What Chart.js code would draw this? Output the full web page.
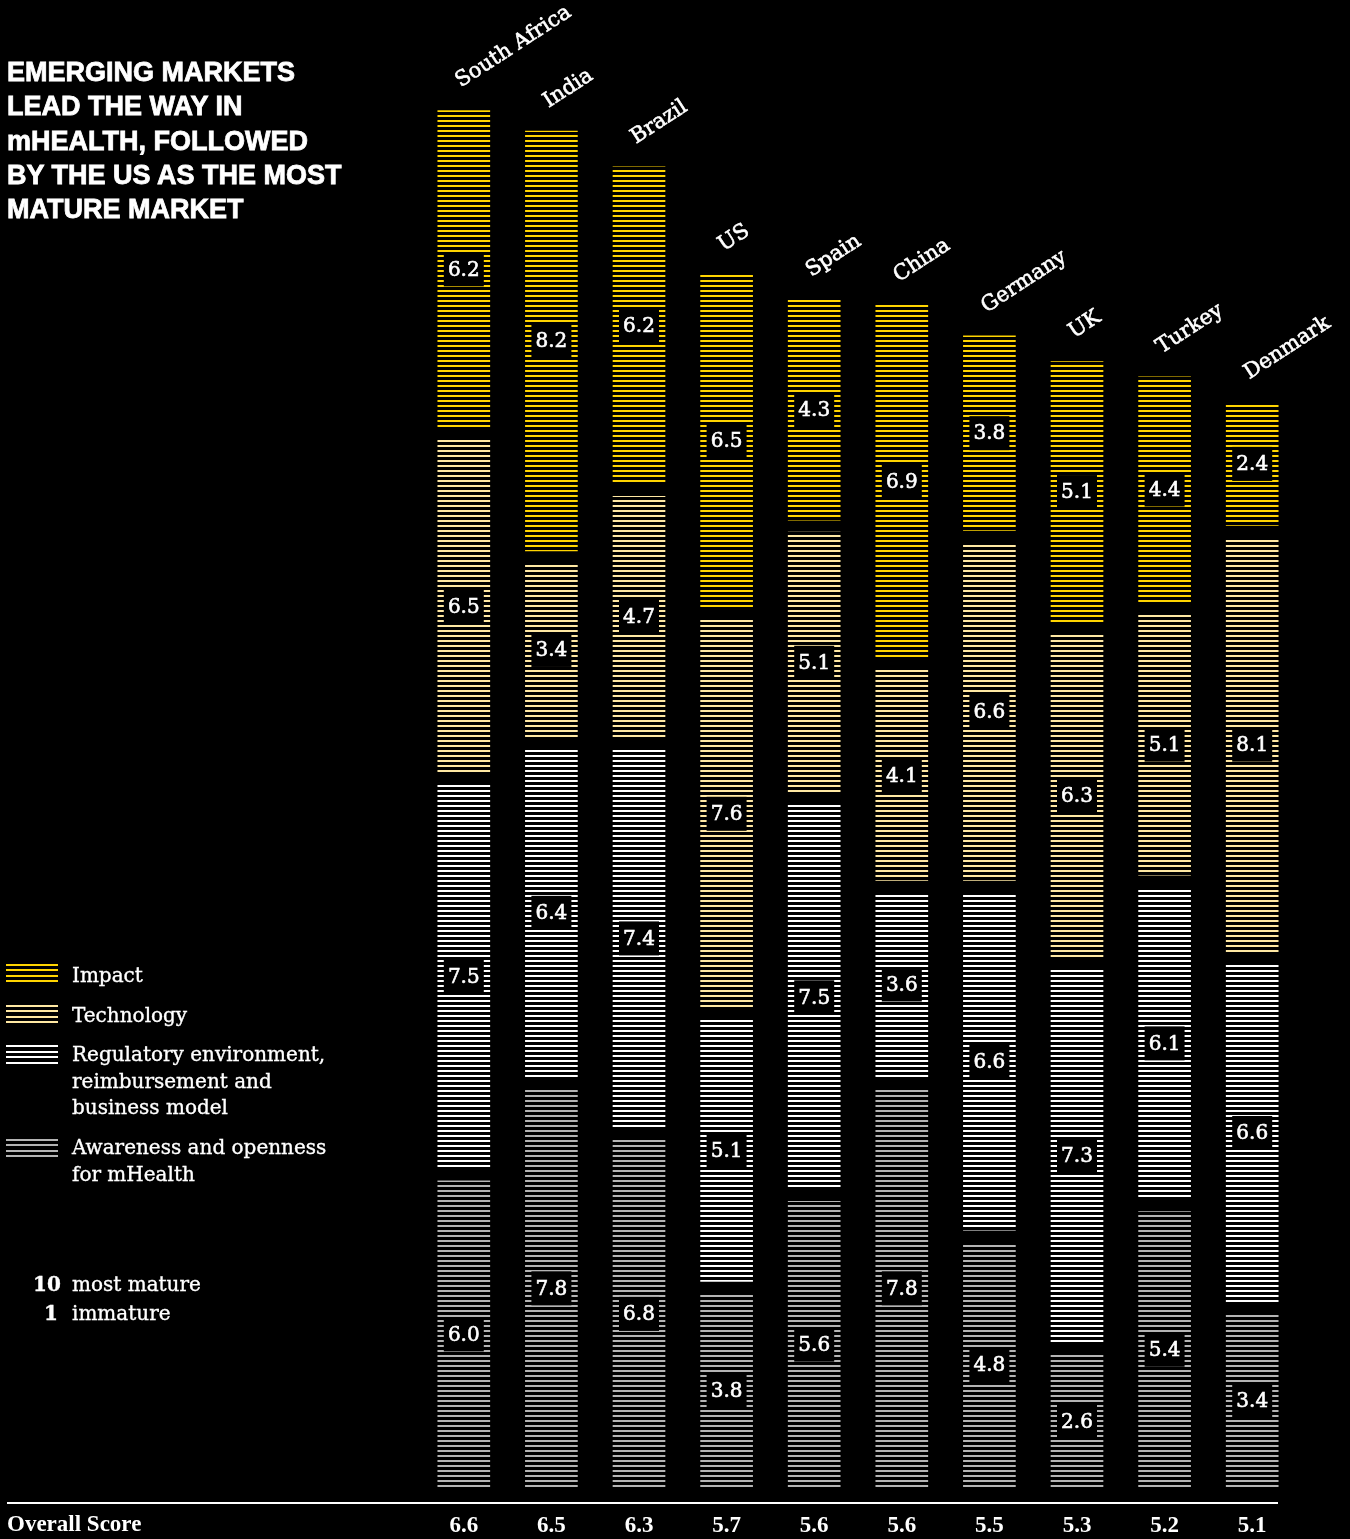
<!DOCTYPE html>
<html>
<head>
<meta charset="utf-8">
<script src="https://cdn.jsdelivr.net/npm/chart.js@4.4.1/dist/chart.umd.min.js"></script>
<style>
  html, body { margin: 0; padding: 0; background: #000; }
  body { width: 1350px; height: 1539px; position: relative; overflow: hidden; color: #fff; }
  #chart { position: absolute; left: 0; top: 0; }
  .title {
    position: absolute; left: 7px; top: 55px;
    font: bold 27px/34.3px "Liberation Sans", Arial, sans-serif;
    -webkit-text-stroke: 0.8px #fff;
  }
  .serif {
    font-family: "DejaVu Serif", serif; font-size: 20px; line-height: 26.5px;
    -webkit-text-stroke: 0.35px #fff;
  }
  .txt { position: absolute; white-space: nowrap; }
  .swatch { position: absolute; left: 6px; width: 52px; height: 19px; }
  .rule { position: absolute; left: 7px; top: 1502px; width: 1271px; height: 2px; background: #fff; }
  .overall { position: absolute; left: 7px; top: 1511px; font: bold 23px/26px "Liberation Serif", serif; }
</style>
</head>
<body>
<canvas id="chart" width="1350" height="1539"></canvas>

<div class="title">EMERGING MARKETS<br>LEAD THE WAY IN<br>mHEALTH, FOLLOWED<br>BY THE US AS THE MOST<br>MATURE MARKET</div>

<div class="swatch" id="sw-impact" style="top:964px"></div>
<div class="txt serif" style="left:72px; top:962px">Impact</div>
<div class="swatch" id="sw-tech" style="top:1005px"></div>
<div class="txt serif" style="left:72px; top:1002px">Technology</div>
<div class="swatch" id="sw-reg" style="top:1045px"></div>
<div class="txt serif" style="left:72px; top:1041px">Regulatory environment,<br>reimbursement and<br>business model</div>
<div class="swatch" id="sw-aware" style="top:1139px"></div>
<div class="txt serif" style="left:72px; top:1134px">Awareness and openness<br>for mHealth</div>

<div class="txt serif" style="left:33px; top:1271px; font-weight:bold">10</div>
<div class="txt serif" style="left:72px; top:1271px">most mature</div>
<div class="txt serif" style="left:44px; top:1300px; font-weight:bold">1</div>
<div class="txt serif" style="left:72px; top:1300px">immature</div>

<div class="rule"></div>
<div class="overall">Overall Score</div>

<script>
// scores per country, 1 = immature, 10 = most mature
const countries = ['South Africa', 'India', 'Brazil', 'US', 'Spain', 'China', 'Germany', 'UK', 'Turkey', 'Denmark'];
const impact = [6.2, 8.2, 6.2, 6.5, 4.3, 6.9, 3.8, 5.1, 4.4, 2.4];
const technology = [6.5, 3.4, 4.7, 7.6, 5.1, 4.1, 6.6, 6.3, 5.1, 8.1];
const regulatory = [7.5, 6.4, 7.4, 5.1, 7.5, 3.6, 6.6, 7.3, 6.1, 6.6];
const awareness = [6.0, 7.8, 6.8, 3.8, 5.6, 7.8, 4.8, 2.6, 5.4, 3.4];
const overall = [6.6, 6.5, 6.3, 5.7, 5.6, 5.6, 5.5, 5.3, 5.2, 5.1];

const COLORS = {
  impact: '#ffd400',
  technology: '#ffe8a3',
  regulatory: '#ffffff',
  awareness: '#b4b4b4'
};
const GAP = 0.234; // black space between stacked segments, in score units

function stripes(color) {
  const c = document.createElement('canvas');
  c.width = 8;
  c.height = 5;
  const g = c.getContext('2d');
  g.fillStyle = color;
  g.fillRect(0, 0, 8, 2);
  return g.createPattern(c, 'repeat');
}

function swatch(id, color) {
  document.getElementById(id).style.background =
    'repeating-linear-gradient(to bottom, ' + color + ' 0px, ' + color + ' 2px, transparent 2px, transparent 5.5px)';
}
swatch('sw-impact', COLORS.impact);
swatch('sw-tech', COLORS.technology);
swatch('sw-reg', COLORS.regulatory);
swatch('sw-aware', COLORS.awareness);

// stack the segments bottom-up as floating bars, leaving a gap between them
const layers = [awareness, regulatory, technology, impact];
const tops = countries.map(() => 0);
const ranges = layers.map(function (vals, j) {
  return vals.map(function (v, i) {
    const start = tops[i] + (j > 0 ? GAP : 0);
    tops[i] = start + v;
    return [start, tops[i]];
  });
});

function dataset(label, idx, color) {
  return {
    label: label,
    data: ranges[idx],
    values: layers[idx],
    backgroundColor: stripes(color),
    borderWidth: 0,
    barThickness: 52,
    grouped: false
  };
}

// fill plus a hairline stroke, so the serif reads a bit heavier
function heavyText(ctx, text, x, y, weight) {
  ctx.fillText(text, x, y);
  ctx.lineWidth = weight;
  ctx.strokeText(text, x, y);
}

const labelsPlugin = {
  id: 'labels',
  afterDatasetsDraw(chart) {
    const ctx = chart.ctx;
    ctx.save();
    ctx.strokeStyle = '#fff';

    // value boxes in the middle of each segment
    ctx.font = '20px "DejaVu Serif"';
    ctx.textAlign = 'center';
    ctx.textBaseline = 'middle';
    chart.data.datasets.forEach(function (ds, d) {
      chart.getDatasetMeta(d).data.forEach(function (bar, i) {
        const cy = (bar.y + bar.base) / 2;
        ctx.fillStyle = '#000';
        ctx.fillRect(bar.x - 20, cy - 17, 40, 34);
        ctx.fillStyle = '#fff';
        heavyText(ctx, ds.values[i].toFixed(1), bar.x, cy + 1, 0.6);
      });
    });

    // country names, tilted above the top segment
    const topMeta = chart.getDatasetMeta(chart.data.datasets.length - 1);
    ctx.font = '21px "DejaVu Serif"';
    ctx.textAlign = 'left';
    ctx.textBaseline = 'alphabetic';
    topMeta.data.forEach(function (bar, i) {
      ctx.save();
      ctx.translate(bar.x - 3, bar.y - 23);
      ctx.rotate(-33 * Math.PI / 180);
      ctx.fillStyle = '#fff';
      heavyText(ctx, countries[i], 0, 0, 0.6);
      ctx.restore();
    });

    // overall score row
    ctx.font = 'bold 23px "Liberation Serif"';
    ctx.textAlign = 'center';
    topMeta.data.forEach(function (bar, i) {
      ctx.fillStyle = '#fff';
      ctx.fillText(overall[i].toFixed(1), bar.x, 1532);
    });

    ctx.restore();
  }
};

new Chart(document.getElementById('chart'), {
  type: 'bar',
  data: {
    labels: countries,
    datasets: [
      dataset('Awareness and openness for mHealth', 0, COLORS.awareness),
      dataset('Regulatory environment, reimbursement and business model', 1, COLORS.regulatory),
      dataset('Technology', 2, COLORS.technology),
      dataset('Impact', 3, COLORS.impact)
    ]
  },
  options: {
    responsive: false,
    animation: false,
    layout: { padding: { left: 420, right: 54, top: 0, bottom: 51 } },
    scales: {
      x: { display: false },
      y: { display: false, min: 0, max: 29.0625 }
    },
    plugins: {
      legend: { display: false },
      tooltip: { enabled: false }
    }
  },
  plugins: [labelsPlugin]
});
</script>
</body>
</html>
